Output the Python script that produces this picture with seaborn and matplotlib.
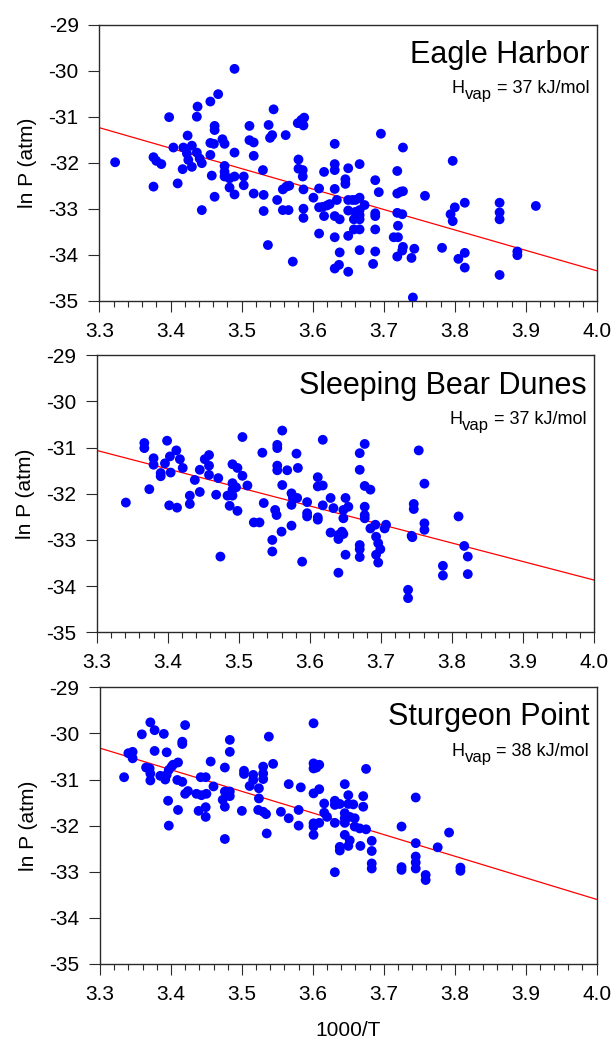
import numpy as np
import pandas as pd
import matplotlib
matplotlib.use("Agg")
import matplotlib.pyplot as plt
from matplotlib.ticker import MultipleLocator, FormatStrFormatter
import seaborn as sns

# ---- data: 1000/T (K^-1) and ln P (atm) for each site ----
eagle_x = [3.322, 3.376, 3.380, 3.387, 3.376, 3.398, 3.404, 3.410, 3.417, 3.418, 3.424, 3.423, 3.430, 3.425,
           3.430, 3.437, 3.441, 3.444, 3.437, 3.438, 3.444, 3.456, 3.467, 3.456, 3.461, 3.456, 3.462, 3.462,
           3.458, 3.462, 3.473, 3.476, 3.476, 3.476, 3.476, 3.483, 3.483, 3.490, 3.490, 3.490, 3.490, 3.503,
           3.503, 3.511, 3.511, 3.517, 3.517, 3.517, 3.530, 3.531, 3.531, 3.537, 3.538, 3.540, 3.543, 3.545,
           3.550, 3.558, 3.563, 3.567, 3.558, 3.566, 3.562, 3.572, 3.579, 3.584, 3.588, 3.587, 3.580, 3.580,
           3.586, 3.586, 3.587, 3.587, 3.587, 3.601, 3.609, 3.609, 3.616, 3.609, 3.614, 3.620, 3.624, 3.616,
           3.631, 3.631, 3.631, 3.631, 3.634, 3.631, 3.638, 3.631, 3.638, 3.631, 3.637, 3.650, 3.646, 3.646,
           3.650, 3.650, 3.650, 3.650, 3.666, 3.656, 3.660, 3.666, 3.673, 3.660, 3.666, 3.666, 3.666, 3.658,
           3.658, 3.666, 3.666, 3.685, 3.688, 3.693, 3.688, 3.688, 3.688, 3.688, 3.696, 3.719, 3.719, 3.724,
           3.727, 3.719, 3.726, 3.720, 3.714, 3.720, 3.727, 3.727, 3.726, 3.743, 3.719, 3.739, 3.741, 3.758,
           3.782, 3.797, 3.794, 3.800, 3.797, 3.814, 3.805, 3.814, 3.814, 3.863, 3.863, 3.863, 3.863, 3.888,
           3.888, 3.914]
eagle_y = [-31.99, -31.88, -31.96, -32.03, -32.52, -31.01, -31.67, -32.45, -32.14, -31.67, -31.41, -31.80, -31.63, -31.94,
           -32.09, -31.78, -31.91, -32.01, -31.00, -30.78, -33.03, -30.67, -30.51, -31.57, -31.59, -31.83, -31.20, -31.29,
           -32.28, -32.74, -31.49, -31.59, -32.07, -32.20, -32.30, -32.34, -32.54, -32.30, -32.69, -29.96, -31.78, -32.30,
           -32.49, -31.20, -31.51, -31.56, -31.85, -32.67, -32.16, -32.70, -33.05, -33.79, -31.18, -31.46, -31.40, -30.84,
           -32.81, -32.58, -32.52, -32.50, -33.03, -33.03, -31.40, -34.15, -31.14, -31.07, -31.02, -31.19, -31.93, -32.13,
           -32.16, -32.30, -32.58, -33.00, -33.20, -32.76, -32.56, -33.54, -32.20, -32.97, -32.96, -32.93, -32.90, -33.16,
           -31.59, -32.03, -32.16, -32.57, -32.81, -33.16, -33.23, -33.62, -33.95, -34.30, -34.22, -32.12, -32.36, -32.46,
           -32.81, -33.04, -33.59, -34.37, -32.03, -32.81, -32.81, -32.76, -32.92, -33.07, -33.03, -33.14, -33.23, -33.23,
           -33.45, -33.45, -33.90, -34.20, -32.38, -32.64, -33.10, -33.16, -33.45, -33.93, -31.37, -32.18, -32.67, -32.63,
           -32.62, -33.09, -33.12, -33.37, -33.62, -33.62, -31.67, -33.83, -33.91, -33.87, -34.04, -34.07, -34.93, -32.72,
           -33.85, -31.96, -33.12, -32.97, -33.27, -32.87, -34.09, -33.96, -34.28, -32.87, -33.08, -33.23, -34.44, -33.93,
           -34.01, -32.94]

bear_x = [3.341, 3.367, 3.367, 3.380, 3.380, 3.374, 3.390, 3.390, 3.399, 3.396, 3.403, 3.412, 3.417, 3.404,
          3.421, 3.402, 3.413, 3.431, 3.431, 3.438, 3.445, 3.445, 3.452, 3.458, 3.458, 3.458, 3.471, 3.468,
          3.474, 3.491, 3.498, 3.491, 3.491, 3.496, 3.491, 3.484, 3.487, 3.498, 3.505, 3.505, 3.512, 3.521,
          3.529, 3.533, 3.535, 3.547, 3.547, 3.551, 3.553, 3.554, 3.554, 3.554, 3.554, 3.561, 3.561, 3.560,
          3.568, 3.574, 3.574, 3.576, 3.582, 3.574, 3.581, 3.583, 3.589, 3.596, 3.596, 3.596, 3.611, 3.611,
          3.618, 3.611, 3.611, 3.618, 3.618, 3.629, 3.633, 3.629, 3.640, 3.645, 3.647, 3.640, 3.647, 3.647,
          3.640, 3.650, 3.650, 3.654, 3.670, 3.677, 3.670, 3.677, 3.685, 3.677, 3.677, 3.677, 3.685, 3.692,
          3.693, 3.696, 3.699, 3.670, 3.670, 3.670, 3.693, 3.696, 3.707, 3.705, 3.738, 3.738, 3.743, 3.744,
          3.746, 3.746, 3.753, 3.761, 3.761, 3.761, 3.787, 3.787, 3.809, 3.817, 3.822, 3.822]
bear_y = [-32.19, -30.90, -31.01, -31.23, -31.37, -31.90, -31.55, -31.62, -30.85, -31.34, -31.19, -31.06, -31.25, -31.54,
          -31.44, -32.25, -32.30, -32.04, -32.22, -31.70, -31.48, -31.96, -31.25, -31.16, -31.39, -31.59, -31.66, -32.02,
          -33.36, -31.36, -31.44, -31.77, -31.91, -31.86, -32.04, -32.04, -32.26, -32.37, -30.77, -31.61, -31.82, -32.62,
          -32.62, -31.11, -32.20, -33.00, -33.25, -32.35, -32.46, -30.94, -31.01, -31.39, -31.49, -30.63, -31.81, -32.82,
          -31.49, -31.99, -32.24, -32.09, -32.09, -32.69, -31.13, -31.44, -33.47, -32.18, -32.42, -32.49, -31.64, -31.84,
          -31.82, -32.51, -32.56, -30.83, -32.25, -32.09, -32.31, -32.84, -32.98, -32.82, -32.87, -32.89, -32.35, -32.53,
          -33.71, -32.09, -33.32, -32.28, -31.12, -30.92, -31.48, -31.83, -31.91, -32.28, -32.46, -32.53, -32.75, -32.67,
          -32.93, -33.07, -33.20, -33.11, -33.20, -33.37, -33.32, -33.49, -32.67, -32.75, -34.08, -34.26, -32.91, -32.94,
          -32.22, -32.33, -31.06, -31.78, -32.64, -32.78, -33.56, -33.77, -32.49, -33.13, -33.36, -33.74]

sturgeon_x = [3.334, 3.340, 3.346, 3.346, 3.359, 3.365, 3.370, 3.371, 3.371, 3.371, 3.377, 3.377, 3.385, 3.392,
              3.394, 3.397, 3.401, 3.403, 3.410, 3.390, 3.394, 3.396, 3.397, 3.410, 3.409, 3.416, 3.416, 3.416,
              3.420, 3.420, 3.424, 3.436, 3.443, 3.450, 3.442, 3.449, 3.439, 3.449, 3.449, 3.456, 3.460, 3.473,
              3.476, 3.476, 3.483, 3.483, 3.476, 3.476, 3.483, 3.483, 3.500, 3.503, 3.503, 3.516, 3.516, 3.511,
              3.524, 3.524, 3.523, 3.530, 3.534, 3.530, 3.530, 3.530, 3.535, 3.538, 3.544, 3.555, 3.566, 3.566,
              3.580, 3.580, 3.583, 3.601, 3.601, 3.601, 3.609, 3.605, 3.601, 3.609, 3.601, 3.601, 3.609, 3.601,
              3.616, 3.616, 3.620, 3.631, 3.631, 3.638, 3.631, 3.645, 3.645, 3.645, 3.645, 3.645, 3.638, 3.638,
              3.631, 3.650, 3.650, 3.650, 3.652, 3.659, 3.659, 3.666, 3.675, 3.657, 3.652, 3.667, 3.671, 3.671,
              3.675, 3.683, 3.683, 3.683, 3.683, 3.725, 3.725, 3.725, 3.745, 3.745, 3.745, 3.745, 3.745, 3.759,
              3.759, 3.776, 3.792, 3.808, 3.808]
sturgeon_y = [-30.95, -30.43, -30.40, -30.54, -30.02, -30.74, -30.76, -30.87, -31.02, -29.76, -29.93, -30.38, -30.92, -31.00,
              -30.90, -30.79, -30.72, -30.68, -30.63, -30.01, -30.41, -31.46, -32.00, -31.66, -31.01, -31.05, -30.18, -30.23,
              -29.82, -31.31, -31.25, -31.31, -31.34, -31.31, -30.95, -30.95, -31.68, -31.60, -31.81, -30.61, -31.15, -31.44,
              -31.59, -31.26, -31.26, -31.36, -30.74, -32.29, -30.14, -30.40, -31.68, -30.81, -30.88, -30.90, -31.01, -31.14,
              -31.19, -31.41, -31.66, -31.70, -31.75, -30.72, -30.87, -30.99, -32.17, -30.07, -30.66, -31.70, -31.10, -31.84,
              -31.66, -32.00, -31.17, -29.78, -30.65, -30.76, -30.68, -30.74, -31.30, -31.21, -31.95, -32.02, -31.94, -32.20,
              -31.52, -31.72, -31.81, -31.46, -31.55, -31.53, -31.94, -31.10, -31.73, -31.84, -31.94, -32.20, -32.46, -32.54,
              -33.01, -31.34, -31.53, -32.44, -31.81, -31.84, -32.02, -32.06, -32.08, -31.54, -32.32, -32.44, -31.36, -31.59,
              -30.77, -32.33, -32.55, -32.82, -32.93, -32.02, -32.90, -32.96, -31.39, -32.38, -32.67, -32.80, -32.93, -33.07,
              -33.18, -32.47, -32.15, -32.91, -32.98]

sites = ["Eagle Harbor", "Sleeping Bear Dunes", "Sturgeon Point"]
site_x = [eagle_x, bear_x, sturgeon_x]
site_y = [eagle_y, bear_y, sturgeon_y]
# Clausius-Clapeyron fits: ln P = intercept + slope * (1000/T)
fit_slope = [-4.443, -4.014, -4.686]
fit_intercept = [-16.578, -17.814, -14.856]
hvap_kj = [37, 37, 38]

x_ticks = [3.3, 3.4, 3.5, 3.6, 3.7, 3.8, 3.9, 4.0]
y_ticks = [-35, -34, -33, -32, -31, -30, -29]

# ---- style ----
sns.set_style("white")
plt.rcParams["font.family"] = ["Liberation Sans", "DejaVu Sans"]
plt.rcParams["axes.unicode_minus"] = False
plt.rcParams["text.color"] = "black"
plt.rcParams["axes.labelcolor"] = "black"
plt.rcParams["xtick.color"] = "black"
plt.rcParams["ytick.color"] = "black"

fig = plt.figure(figsize=(6.16, 10.42), dpi=100)
positions = [
    [0.1615, 0.7114, 0.8076, 0.2649],
    [0.1570, 0.3932, 0.8078, 0.2658],
    [0.1623, 0.0749, 0.8063, 0.2655],
]
axis_grey = "#2a2a2a"

for i, (name, xs, ys) in enumerate(zip(sites, site_x, site_y)):
    ax = fig.add_axes(positions[i])
    df = pd.DataFrame({"inv_T": xs, "lnP": ys})
    sns.scatterplot(data=df, x="inv_T", y="lnP", ax=ax, color="#0000FF",
                    s=50, edgecolor="none", linewidth=0, zorder=3)

    xl = np.array([x_ticks[0], x_ticks[-1]])
    fit = pd.DataFrame({"inv_T": xl, "lnP": fit_intercept[i] + fit_slope[i] * xl})
    sns.lineplot(data=fit, x="inv_T", y="lnP", ax=ax, color="#FF0000",
                 linewidth=0.9, zorder=2)

    ax.set_xlim(x_ticks[0], x_ticks[-1])
    ax.set_ylim(y_ticks[0], y_ticks[-1])
    ax.set_xticks(x_ticks)
    ax.set_yticks(y_ticks)
    ax.xaxis.set_minor_locator(MultipleLocator(0.02))
    ax.xaxis.set_major_formatter(FormatStrFormatter("%.1f"))
    ax.yaxis.set_major_formatter(FormatStrFormatter("%d"))
    ax.tick_params(axis="both", which="major", direction="out", length=8,
                   width=0.8, color=axis_grey, labelcolor="black", labelsize=15, pad=7,
                   bottom=True, left=True, top=False, right=False)
    ax.tick_params(axis="x", which="minor", direction="out", length=4.3,
                   width=0.8, color=axis_grey, bottom=True, top=False)
    ax.tick_params(axis="y", which="minor", left=False, right=False)
    for sp in ax.spines.values():
        sp.set_visible(True)
        sp.set_color(axis_grey)
        sp.set_linewidth(1.0)

    ax.set_ylabel("ln P (atm)", fontsize=15, color="black")
    ax.yaxis.set_label_coords(-0.125, 0.5)
    if i == 2:
        ax.set_xlabel("1000/T", fontsize=15, color="black")
        ax.xaxis.set_label_coords(0.5, -0.205)
    else:
        ax.set_xlabel("")

    ax.text(0.985, 0.862, name, transform=ax.transAxes, ha="right",
            va="baseline", fontsize=22, color="black")
    # H_vap label built from pieces so the subscript keeps a readable size
    rest = ax.text(0.985, 0.752, f" = {hvap_kj[i]} kJ/mol", transform=ax.transAxes,
                   ha="right", va="baseline", fontsize=13, color="black")
    sub = ax.annotate("vap", xy=(0, 0), xycoords=rest, xytext=(0, -3.6),
                      textcoords="offset points", ha="right", va="bottom",
                      fontsize=12, color="black")
    ax.annotate("H", xy=(0, 0), xycoords=sub, xytext=(0, 3.6),
                textcoords="offset points", ha="right", va="bottom",
                fontsize=13, color="black")

fig.savefig("out.png", dpi=100)
